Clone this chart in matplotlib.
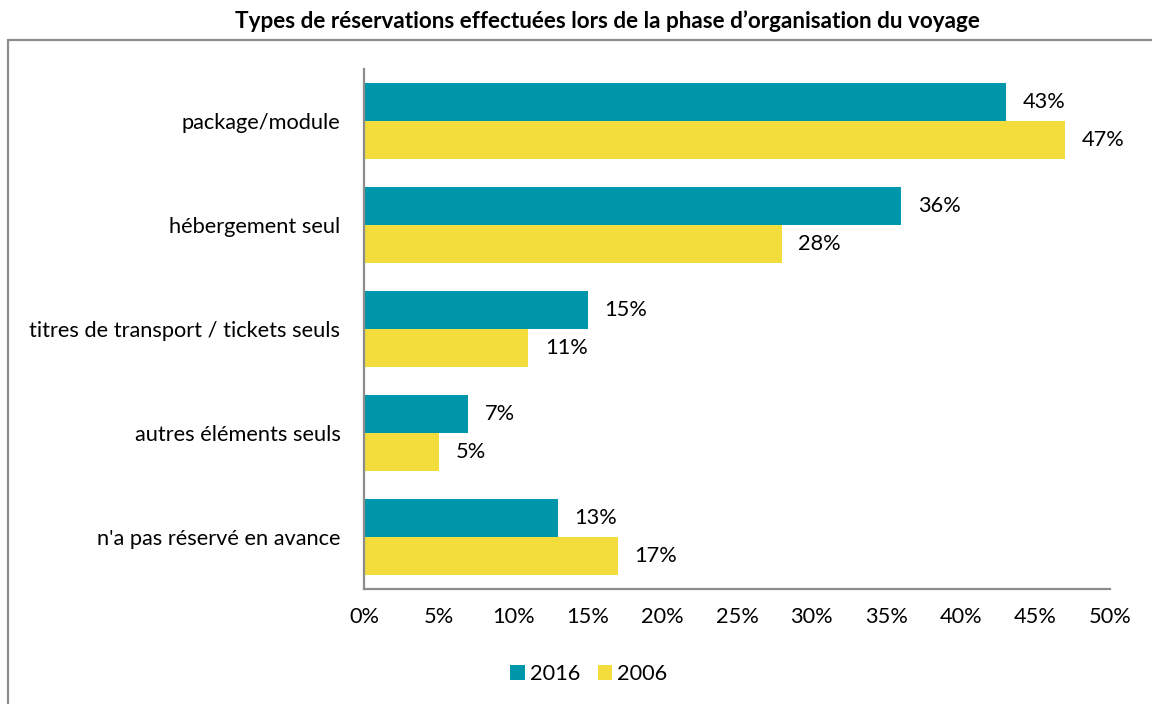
import matplotlib
matplotlib.use("Agg")
import matplotlib.pyplot as plt
from matplotlib.patches import Rectangle
import numpy as np

plt.rcParams['font.family'] = ['Lato', 'DejaVu Sans']

categories = ["package/module", "hébergement seul", "titres de transport / tickets seuls",
              "autres éléments seuls", "n'a pas réservé en avance"]
values_2016 = [43, 36, 15, 7, 13]
values_2006 = [47, 28, 11, 5, 17]
series_names = ["2016", "2006"]
xticks = [0, 5, 10, 15, 20, 25, 30, 35, 40, 45, 50]
title = "Types de réservations effectuées lors de la phase d\u2019organisation du voyage"

teal = "#0097AB"
yellow = "#F2DD3C"
gray = "#8c8c8c"
fs = 15.7

fig = plt.figure(figsize=(11.52, 7.04), dpi=100)
# outer chart frame (runs off the right and bottom edges)
fig.patches.append(Rectangle((8 / 1152, -0.05), 1.2, (704 - 40) / 704 + 0.05,
                             transform=fig.transFigure, fill=False,
                             edgecolor=gray, linewidth=1.6))
fig.text(607 / 1152, 1 - 21 / 704, title, ha="center", va="center",
         fontsize=16.2, fontweight="bold")

ax = fig.add_axes([364 / 1152, 115 / 704, (1110 - 364) / 1152, (589 - 69) / 704])
y = np.arange(len(categories))
h = 0.365
b1 = ax.barh(y - h / 2, values_2016, height=h, color=teal, label=series_names[0])
b2 = ax.barh(y + h / 2, values_2006, height=h, color=yellow, label=series_names[1])

for bars in (b1, b2):
    for rect in bars:
        w = rect.get_width()
        ax.annotate(f"{w:g}%", (w, rect.get_y() + rect.get_height() / 2),
                    xytext=(12, 0), textcoords="offset points",
                    va="center", ha="left", fontsize=fs)

ax.set_xlim(0, 50)
ax.set_ylim(len(categories) - 0.5, -0.5)
ax.set_xticks(xticks)
ax.set_xticklabels([f"{t}%" for t in xticks], fontsize=fs)
ax.set_yticks(y)
ax.set_yticklabels(categories, fontsize=fs)
ax.tick_params(axis="both", length=0)
ax.tick_params(axis="x", pad=13)
ax.tick_params(axis="y", pad=17)
for s in ("top", "right"):
    ax.spines[s].set_visible(False)
for s in ("left", "bottom"):
    ax.spines[s].set_color(gray)
    ax.spines[s].set_linewidth(1.6)

fig.legend(handles=[b1, b2], loc="center", bbox_to_anchor=(589 / 1152, 1 - 674 / 704),
           ncol=2, frameon=False, fontsize=fs, handlelength=0.65, handleheight=0.65,
           handletextpad=0.25, columnspacing=0.8)

fig.savefig("out.png", dpi=100)
